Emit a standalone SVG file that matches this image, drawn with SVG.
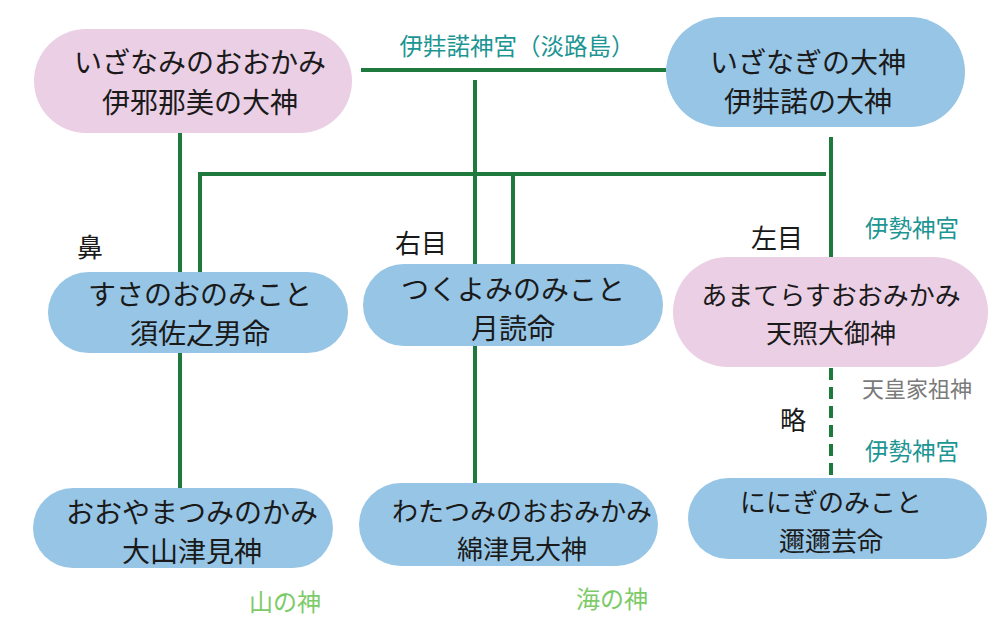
<svg xmlns="http://www.w3.org/2000/svg" width="1000" height="639" viewBox="0 0 1000 639">
<style>
text{font-family:"Noto Sans CJK JP","Noto Sans",sans-serif;text-anchor:middle;dominant-baseline:central}
.pink{fill:#ebcfe5}
.blue{fill:#97c5e5}
.nt{font-size:28px;fill:#1a1a1a}
.sm{font-size:26px}
.lbl{font-size:26px;fill:#1a1a1a}
.teal{font-size:23.5px;fill:#1c9593}
.gray{font-size:22px;fill:#7a7a7a}
.lg{font-size:24px;fill:#7ccb68}
.ln{stroke:#1d7a3c;stroke-width:4;fill:none}
.dash{stroke-dasharray:12 7}
</style>
<rect width="1000" height="639" fill="#ffffff"/>
<g id="connectors">
<line class="ln" x1="361" y1="70" x2="666" y2="70"/>
<line class="ln" x1="475" y1="80" x2="475" y2="265"/>
<line class="ln" x1="475" y1="346" x2="475" y2="484"/>
<line class="ln" x1="180" y1="133" x2="180" y2="272"/>
<line class="ln" x1="180" y1="353" x2="180" y2="489"/>
<line class="ln" x1="198" y1="174" x2="826" y2="174"/>
<line class="ln" x1="200" y1="172" x2="200" y2="274"/>
<line class="ln" x1="513" y1="174" x2="513" y2="265"/>
<line class="ln" x1="831" y1="137" x2="831" y2="274"/>
<line class="ln dash" x1="831" y1="368" x2="831" y2="482"/>
</g>
<g id="izanami">
<rect class="pink" x="34" y="29" width="318" height="104" rx="52"/>
<text class="nt" x="200" y="61">いざなみのおおかみ</text>
<text class="nt" x="200" y="101">伊邪那美の大神</text>
</g>
<g id="izanagi">
<rect class="blue" x="666" y="17" width="299" height="110" rx="55"/>
<text class="nt" x="808" y="61">いざなぎの大神</text>
<text class="nt" x="808" y="100">伊弉諾の大神</text>
</g>
<g id="susano">
<rect class="blue" x="48" y="272" width="300" height="81" rx="40.5"/>
<text class="nt" x="200" y="293">すさのおのみこと</text>
<text class="nt" x="200" y="332">須佐之男命</text>
</g>
<g id="tsukuyomi">
<rect class="blue" x="363" y="264" width="300" height="82" rx="41"/>
<text class="nt" x="513" y="288">つくよみのみこと</text>
<text class="nt" x="513" y="327">月読命</text>
</g>
<g id="amaterasu">
<rect class="pink" x="673" y="257" width="315" height="110" rx="55"/>
<text class="nt sm" x="831" y="293">あまてらすおおみかみ</text>
<text class="nt sm" x="831" y="331">天照大御神</text>
</g>
<g id="oyamatsumi">
<rect class="blue" x="33" y="488" width="300" height="80" rx="40"/>
<text class="nt" x="192" y="511">おおやまつみのかみ</text>
<text class="nt" x="192" y="550">大山津見神</text>
</g>
<g id="watatsumi">
<rect class="blue" x="359" y="483" width="299" height="83" rx="41.5"/>
<text class="nt sm" x="522" y="509">わたつみのおおみかみ</text>
<text class="nt sm" x="522" y="547">綿津見大神</text>
</g>
<g id="ninigi">
<rect class="blue" x="688" y="478" width="299" height="81" rx="40.5"/>
<text class="nt sm" x="831" y="500">ににぎのみこと</text>
<text class="nt sm" x="831" y="539">邇邇芸命</text>
</g>
<g id="labels">
<text class="teal" x="517" y="45">伊弉諾神宮（淡路島）</text>
<text class="lbl" x="90" y="245">鼻</text>
<text class="lbl" x="421" y="241">右目</text>
<text class="lbl" x="777" y="236">左目</text>
<text class="teal" x="912" y="227">伊勢神宮</text>
<text class="gray" x="917" y="387">天皇家祖神</text>
<text class="lbl" x="793" y="418">略</text>
<text class="teal" x="912" y="450">伊勢神宮</text>
<text class="lg" x="285" y="600">山の神</text>
<text class="lg" x="612" y="597">海の神</text>
</g>
</svg>
